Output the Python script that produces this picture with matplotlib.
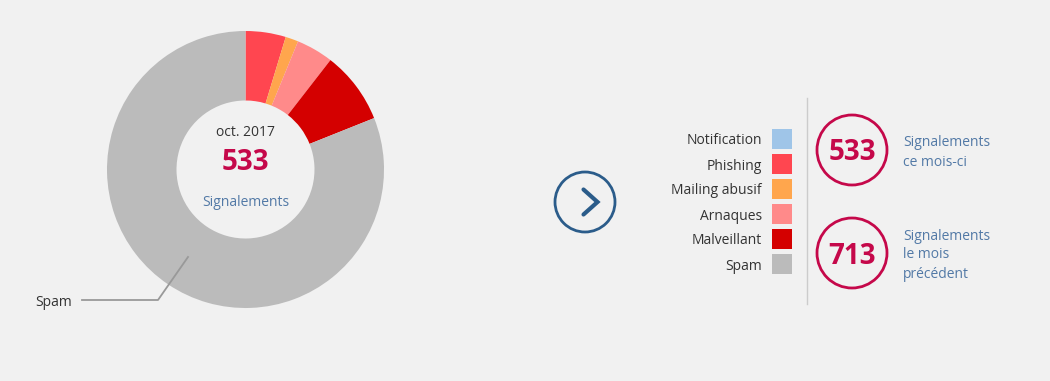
import matplotlib
matplotlib.use("Agg")
import matplotlib.pyplot as plt
from matplotlib.patches import Circle, Rectangle

plt.rcParams['font.family'] = ['Open Sans', 'DejaVu Sans']

categories = ["Notification", "Phishing", "Mailing abusif", "Arnaques", "Malveillant", "Spam"]
values = [0, 25, 8, 23, 45, 432]
colors = ["#9fc5e8", "#ff4650", "#ffa64d", "#ff8a8a", "#d40000", "#bbbbbb"]
month_label = "oct. 2017"
total_this_month = 533
total_prev_month = 713

BG = "#f1f1f1"
CRIMSON = "#c5084a"
BLUE_TXT = "#5279a6"
DARK = "#333333"

fig = plt.figure(figsize=(10.5, 3.81), dpi=100, facecolor=BG)
ax = fig.add_axes([0, 0, 1, 1])
ax.set_facecolor(BG)

cx, cy, R, r_in = 245.5, 169.5, 138.5, 69
ax.pie(values, colors=colors, startangle=-90, counterclock=True,
       center=(cx, cy), radius=R, frame=True,
       wedgeprops=dict(width=R - r_in, linewidth=0))
ax.set_xlim(0, 1050)
ax.set_ylim(381, 0)
ax.set_aspect('equal')
ax.axis('off')

dy = 2  # vertical text correction

# center text
ax.text(cx, 131 + dy, month_label, ha='center', va='center', fontsize=10, color=DARK)
ax.text(cx, 160 + dy, str(total_this_month), ha='center', va='center', fontsize=20,
        fontweight='bold', color=CRIMSON)
ax.text(cx, 200 + dy, "Signalements", ha='center', va='center', fontsize=10, color=BLUE_TXT)

# Spam label line
ax.plot([188, 158, 82], [257, 300, 300], color="#999999", lw=1.3)
ax.text(72, 300 + dy, categories[-1], ha='right', va='center', fontsize=10, color=DARK)

# arrow circle
ax.add_patch(Circle((585, 202), 30, fill=False, ec="#2b5c8a", lw=2))
ax.plot([583.5, 597.5, 583.5], [189.5, 202, 214.5], color="#2b5c8a", lw=3,
        solid_capstyle='round', solid_joinstyle='miter')

# legend
for i, (cat, col) in enumerate(zip(categories, colors)):
    y = 139 + 25 * i
    ax.text(762, y + dy, cat, ha='right', va='center', fontsize=10, color=DARK)
    ax.add_patch(Rectangle((772, y - 10), 20, 20, fc=col, ec='none'))

# separator
ax.plot([806.5, 806.5], [98, 304], color="#cccccc", lw=1)

# stat circles
for (yc, num, lines) in [(150, total_this_month, ["Signalements", "ce mois-ci"]),
                          (253, total_prev_month, ["Signalements", "le mois", "précédent"])]:
    ax.add_patch(Circle((852, yc), 35, fill=False, ec=CRIMSON, lw=2))
    ax.text(852, yc + 1 + dy, str(num), ha='center', va='center', fontsize=20,
            fontweight='bold', color=CRIMSON)
    n = len(lines)
    y0 = yc - 9 if n == 2 else yc - 19
    for k, t in enumerate(lines):
        ax.text(903, y0 + 19 * k + dy, t, ha='left', va='center', fontsize=10, color=BLUE_TXT)

fig.savefig("out.png", dpi=100, facecolor=BG)
